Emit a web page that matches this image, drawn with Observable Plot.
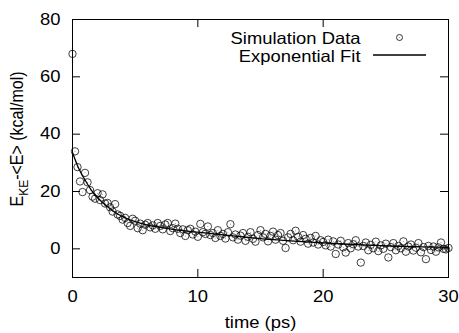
<!DOCTYPE html>
<html>
<head>
<meta charset="utf-8">
<script src="https://cdn.jsdelivr.net/npm/d3@7"></script>
<script src="https://cdn.jsdelivr.net/npm/@observablehq/plot@0.6"></script>
<style>
  html, body { margin: 0; padding: 0; background: white; }
</style>
</head>
<body>
<div id="chart"></div>
<script>
// ---- data ----
const timeStep = 0.2; // ps between samples
const simValues = [
  68, 34, 28.5, 23.5, 19.8, 26.5, 23.2, 20.5, 18.2, 17.5,
  19.4, 17.0, 19.0, 15.8, 16.0, 14.5, 13.0, 15.6, 12.0, 11.5,
  10.2, 10.8, 9.0, 8.0, 10.5, 9.8, 7.2, 8.8, 6.5, 8.4,
  9.0, 7.5, 8.2, 7.0, 9.0, 8.0, 6.8, 8.5, 9.0, 6.2,
  7.2, 8.8, 7.0, 5.5, 6.8, 4.5, 6.5, 7.0, 5.0, 6.0,
  4.2, 8.7, 5.8, 5.2, 7.8, 4.8, 5.5, 3.8, 6.5, 4.5,
  5.2, 3.6, 5.8, 8.6, 4.0, 5.0, 3.2, 4.6, 5.5, 2.8,
  4.2, 5.8, 3.5, 2.5, 4.8, 6.5, 4.0, 5.2, 2.6, 4.5,
  6.0, 3.2, 4.8, 5.5, 2.8, 0.3, 4.0, 5.2, 3.0, 6.3,
  4.2, 2.5, 4.8, 3.5, 1.8, 3.8, 2.2, 4.5, 1.5, 3.0,
  2.4, 1.2, 3.2, 0.8, 2.6, -1.8, 1.5, 2.8, 0.5, -1.3,
  2.0, 0.2, 1.6, 3.0, 0.8, -4.8, 1.0, 2.2, -0.5, 1.4,
  0.2, 2.5, -0.8, 1.2, 0.0, 1.8, -3.0, 0.6, 2.0, -0.5,
  1.0, 0.2, 2.6, -1.0, 0.8, 1.5, -0.6, 0.4, 2.0, -1.2,
  0.6, -3.6, 1.0, -0.4, 0.8, -1.0, 0.5, 2.2, 0.0, -0.2,
  0.3
];
const fitTimes  = [0, 0.5, 1, 1.5, 2, 2.5, 3, 3.5, 4, 5, 6, 7, 8, 10, 12, 14, 16, 18, 20, 22, 24, 26, 28, 30];
const fitValues = [33.6, 28, 24, 20.5, 17.8, 15.8, 14, 12.4, 11.2, 9.5, 8.3, 7.5, 6.8, 5.8, 4.9, 4.0, 3.2, 2.6, 2.1, 1.6, 1.2, 0.9, 0.7, 0.5];
const xTicks = [0, 10, 20, 30];
const yTicks = [0, 20, 40, 60, 80];
const xLabel = "time (ps)";
const legendLabels = ["Simulation Data", "Exponential Fit"];

// ---- tables ----
const sim = simValues.map((v, i) => ({t: +(i * timeStep).toFixed(2), v}));
const fit = fitTimes.map((t, i) => ({t, v: fitValues[i]}));

const W = 459, H = 333;
const mL = 72, mR = 11, mT = 19, mB = 56;
const pw = W - mL - mR, ph = H - mT - mB;
const tk = 8;
const fs = 16.3;       // font size
const sx = 1.13;       // horizontal stretch of glyphs
const font = "'Liberation Sans', Arial, Helvetica, sans-serif";

const plot = Plot.plot({
  width: W, height: H,
  marginLeft: mL, marginRight: mR, marginTop: mT, marginBottom: mB,
  style: {fontFamily: font, fontSize: fs + "px", background: "white", color: "black"},
  x: {domain: [0, 30]},
  y: {domain: [-10, 80]},
  marks: [
    Plot.axisX({ticks: xTicks, tickSize: 0, tickPadding: 13, label: null, fontSize: fs}),
    Plot.axisY({ticks: yTicks, tickSize: 0, tickPadding: 12, label: null, fontSize: fs}),
    // inward ticks (bottom/top/left/right)
    Plot.tickX(xTicks, {x: d => d, insetTop: ph - tk, stroke: "black"}),
    Plot.tickX(xTicks, {x: d => d, insetBottom: ph - tk, stroke: "black"}),
    Plot.tickY(yTicks, {y: d => d, insetRight: pw - tk, stroke: "black"}),
    Plot.tickY(yTicks, {y: d => d, insetLeft: pw - tk, stroke: "black"}),
    Plot.dot(sim, {x: "t", y: "v", r: 3.7, stroke: "black", strokeWidth: 0.75, fill: "none"}),
    Plot.dot(sim, {x: "t", y: "v", r: 0.5, fill: "#888", stroke: "none"}),
    Plot.line(fit, {x: "t", y: "v", stroke: "black", strokeWidth: 1.3, curve: "monotone-x"}),
    Plot.frame({stroke: "black", strokeWidth: 1}),
    Plot.text([xLabel], {frameAnchor: "bottom", dy: 50, lineAnchor: "bottom", fontSize: fs, fill: "black"}),
    // legend
    Plot.text([legendLabels[0]], {frameAnchor: "top-right", dx: -88, dy: 24, textAnchor: "end", lineAnchor: "bottom", fontSize: fs, fill: "black"}),
    Plot.text([legendLabels[1]], {frameAnchor: "top-right", dx: -88, dy: 42, textAnchor: "end", lineAnchor: "bottom", fontSize: fs, fill: "black"}),
    Plot.dot([0], {frameAnchor: "top-right", dx: -49, dy: 18, r: 3, stroke: "black", strokeWidth: 0.8, fill: "none"}),
    Plot.dot([0], {frameAnchor: "top-right", dx: -49, dy: 18, r: 0.5, fill: "#888", stroke: "none"})
  ]
});

const svg = d3.select(plot);
// stretch glyphs horizontally around their anchor points
svg.selectAll("text").each(function() {
  const t = this.getAttribute("transform") || "";
  this.setAttribute("transform", (t + ` scale(${sx},1)`).trim());
});
// legend line sample
svg.append("line")
  .attr("x1", 373).attr("x2", 426).attr("y1", 55).attr("y2", 55)
  .attr("stroke", "black").attr("stroke-width", 1.3);
// y-axis label with subscript
const yl = svg.append("text")
  .attr("transform", `translate(23,139) rotate(-90) scale(1,${sx})`)
  .attr("text-anchor", "middle")
  .attr("font-family", font)
  .attr("font-size", 16)
  .attr("fill", "black");
yl.append("tspan").text("E");
yl.append("tspan").attr("font-size", 12).attr("dy", 4).text("KE");
yl.append("tspan").attr("dy", -4).text("-<E> (kcal/mol)");

document.getElementById("chart").appendChild(plot);
</script>
</body>
</html>
